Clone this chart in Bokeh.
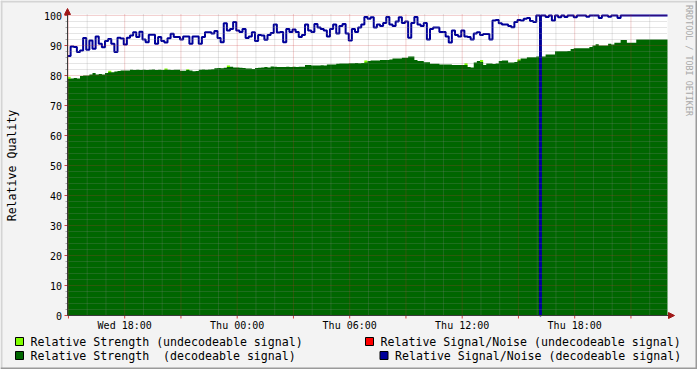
import math
import numpy as np
from bokeh.plotting import figure
from bokeh.models import Range1d, Label, BoxAnnotation, Arrow, NormalHead
from bokeh.core.properties import value
from bokeh.embed import file_html
from bokeh.resources import INLINE

# ---------------- data ----------------
START_HOUR = 14.95          # Wed 14:57 (hours counted from Wed 00:00)
STEP_HOURS = 1.0 / 6.0      # 10-minute samples

# Relative Strength (decodeable signal), one value per 10-minute step
strength_decodeable = [
    78.9, 79.0, 79.2, 79.0, 79.8, 80.0, 80.0, 80.3, 80.8, 80.3,
    80.5, 80.3, 80.8, 81.1, 81.1, 81.3, 81.5, 81.7, 81.7, 81.7,
    81.9, 81.8, 81.9, 81.8, 81.9, 81.8, 81.9, 82.0, 81.8, 81.9,
    81.8, 81.9, 81.9, 81.8, 81.9, 81.9, 81.6, 81.6, 81.8, 81.7,
    81.4, 81.5, 81.9, 82.0, 81.9, 82.0, 82.1, 82.4, 82.5, 82.4,
    82.6, 82.8, 82.9, 82.7, 82.7, 82.6, 82.5, 82.3, 82.3, 82.2,
    82.5, 82.6, 82.7, 82.8, 82.7, 83.0, 82.9, 82.8, 82.8, 82.8,
    82.9, 82.8, 82.9, 82.8, 82.9, 82.9, 83.5, 83.5, 83.3, 83.3,
    83.3, 83.4, 83.3, 83.7, 83.7, 83.7, 83.9, 84.0, 84.0, 84.0,
    84.1, 84.1, 84.2, 84.1, 84.2, 84.3, 84.8, 85.0, 85.0, 85.0,
    85.2, 85.2, 85.2, 85.3, 85.7, 85.7, 85.7, 85.9, 85.9, 86.3,
    86.3, 85.2, 84.8, 84.8, 84.4, 84.4, 83.9, 83.9, 83.9, 83.7,
    83.7, 83.7, 83.7, 83.5, 83.5, 83.5, 83.5, 83.5, 82.8, 82.7,
    84.3, 84.8, 84.5, 83.5, 84.0, 84.0, 83.8, 84.0, 84.8, 85.0,
    85.0, 84.3, 84.3, 84.5, 85.0, 85.7, 85.7, 86.1, 86.1, 86.1,
    86.3, 86.3, 86.3, 87.0, 87.0, 87.0, 88.1, 88.1, 88.1, 88.1,
    88.2, 88.8, 89.1, 89.1, 89.1, 89.1, 89.1, 89.5, 90.0, 90.4,
    90.0, 90.0, 90.0, 90.6, 90.3, 90.9, 90.9, 91.8, 91.8, 90.9,
    90.9, 90.9, 92.0, 92.0, 92.0, 92.0, 92.0, 92.0, 92.0, 92.0,
    92.0, 92.0,
]

# Relative Signal/Noise (decodeable signal), one value per 10-minute step
snr_decodeable = [
    86.5, 89.7, 89.5, 87.8, 88.3, 92.5, 88.6, 91.7, 88.9, 93.0,
    90.6, 89.4, 91.5, 92.2, 90.6, 87.8, 92.6, 92.3, 90.3, 92.6,
    93.3, 94.4, 92.8, 94.6, 92.0, 91.1, 93.6, 93.6, 90.6, 92.8,
    91.5, 91.0, 92.4, 93.9, 92.8, 92.8, 92.0, 93.0, 93.0, 90.6,
    93.0, 93.0, 90.6, 92.8, 94.4, 94.4, 94.0, 94.8, 92.5, 91.1,
    97.4, 95.0, 95.5, 97.8, 95.0, 94.5, 95.5, 92.5, 93.0, 94.4,
    91.5, 93.5, 93.3, 91.9, 93.5, 94.2, 97.0, 94.3, 94.5, 91.1,
    95.5, 94.5, 95.3, 94.5, 92.8, 93.5, 97.0, 95.0, 94.5, 97.2,
    96.0, 95.5, 95.0, 93.0, 95.5, 97.0, 94.0, 96.5, 97.2, 94.0,
    91.7, 95.5, 94.5, 96.0, 97.0, 99.5, 98.9, 99.4, 96.0, 97.0,
    96.5, 97.5, 99.5, 97.0, 96.5, 98.0, 99.4, 97.5, 98.0, 92.6,
    97.5, 99.5, 97.0, 96.5, 97.5, 92.0, 95.5, 96.0, 96.0, 94.5,
    94.5, 93.0, 91.0, 95.0, 93.5, 93.0, 95.0, 93.0, 92.8, 92.0,
    94.0, 94.4, 93.5, 93.8, 93.8, 92.0, 98.3, 98.5, 97.4, 97.0,
    97.0, 96.5, 96.1, 97.8, 98.5, 98.3, 98.9, 99.2, 98.2, 97.8,
    100.0, 100.0, 100.0, 99.5, 100.0, 98.3, 100.0, 99.4, 100.0, 99.5,
    100.0, 100.0, 99.4, 100.0, 100.0, 100.0, 99.6, 100.0, 100.0, 100.0,
    99.2, 100.0, 100.0, 99.6, 100.0, 100.0, 99.2, 100.0, 100.0, 100.0,
    100.0, 100.0, 100.0, 100.0, 100.0, 100.0, 100.0, 100.0, 100.0, 100.0,
    100.0, 100.0,
]

# short drop-out of the decodeable signal/noise (Thu ~16:09)
snr_dropout_hour = 40.15
snr_dropout_value = 0.0

# Relative Strength (undecodeable signal): the few samples that show
strength_undecodeable_hours = [14.95, 17.12, 20.12, 21.28, 23.45, 30.78, 36.12, 36.95, 38.95]
strength_undecodeable_values = [79.6, 81.6, 82.3, 82.1, 83.3, 85.0, 84.1, 85.2, 85.4]

# Relative Signal/Noise (undecodeable signal): none in this period
snr_undecodeable_hours = []
snr_undecodeable_values = []

x_tick_hours = [18, 24, 30, 36, 42]
x_tick_labels = ["Wed 18:00", "Thu 00:00", "Thu 06:00", "Thu 12:00", "Thu 18:00"]
y_ticks = list(range(0, 101, 10))
y_tick_labels = [str(v) for v in y_ticks]

legend_labels = [
    "Relative Strength (undecodeable signal)",
    "Relative Strength\u00a0 (decodeable signal)",
    "Relative Signal/Noise (undecodeable signal)",
    "Relative Signal/Noise (decodeable signal)",
]
legend_colors = ["#80ff00", "#006600", "#ff0000", "#000099"]

# ---------------- styling / layout ----------------
FONT = "DejaVu Sans Mono"
BG = "#f3f3f3"
AXIS_COLOR = "#3a3a3a"
ARROW_COLOR = "#a01818"
MGRID = "#c83232"
GRID = "#8c8c8c"
W, H = 697, 369

n = len(strength_decodeable)
t = START_HOUR + STEP_HOURS * np.arange(n)
t_end = START_HOUR + STEP_HOURS * n

PX_PER_HOUR = 18.75   # page pixels per hour
PX_PER_UNIT = 3.0     # page pixels per quality unit


def hx(px):   # page pixel -> hours
    return START_HOUR + (px - 67) / PX_PER_HOUR


def vy(py):   # page pixel -> quality
    return (315 - py) / PX_PER_UNIT


Y_TOP = vy(14)

p = figure(width=W, height=H, output_backend="svg", toolbar_location=None,
           x_range=Range1d(hx(0), hx(W)), y_range=Range1d(vy(H), vy(0)),
           x_axis_type=None, y_axis_type=None,
           min_border_left=0, min_border_right=0, min_border_top=0, min_border_bottom=0)
p.background_fill_color = BG
p.border_fill_color = BG
p.outline_line_color = None

# 3-D frame of the image
for l, r, b, tp, c in [(0, W, 0, 2, "#d4d4d4"), (0, 2, 0, H, "#d4d4d4"),
                       (0, W, H - 2, H, "#9a9a9a"), (W - 2, W, 0, H, "#9a9a9a")]:
    p.add_layout(BoxAnnotation(left=hx(l), right=hx(r), top=vy(b), bottom=vy(tp),
                               fill_color=c, fill_alpha=1.0, line_color=None,
                               level="underlay"))

# white canvas
p.add_layout(BoxAnnotation(left=START_HOUR, right=t_end, bottom=0, top=Y_TOP,
                           fill_color="white", fill_alpha=1.0, line_color=None,
                           level="underlay"))

# undecodeable strength (light green), below the decodeable area
if strength_undecodeable_hours:
    p.quad(left=strength_undecodeable_hours,
           right=[h + STEP_HOURS for h in strength_undecodeable_hours],
           bottom=0, top=strength_undecodeable_values,
           fill_color=legend_colors[0], line_color=None)

# decodeable strength area
ax = list(t) + [t_end]
ay = list(strength_decodeable) + [strength_decodeable[-1]]
p.varea_step(x=ax, y1=0, y2=ay, step_mode="after", fill_color=legend_colors[1])

# undecodeable SNR (none)
if snr_undecodeable_hours:
    p.step(snr_undecodeable_hours, snr_undecodeable_values, mode="after",
           line_color=legend_colors[2], line_width=2)

# decodeable SNR line
bx, by = [], []
for ti, v in zip(t, snr_decodeable):
    bx.append(ti)
    by.append(v)
    if ti <= snr_dropout_hour < ti + STEP_HOURS:
        bx += [snr_dropout_hour, snr_dropout_hour + 0.05]
        by += [snr_dropout_value, v]
bx.append(t_end)
by.append(snr_decodeable[-1])
p.step(bx, by, mode="after", line_color=legend_colors[3], line_width=2)

# ---------------- grid (drawn over the data, like rrdtool) ----------------
x_major = list(range(15, int(t_end) + 1, 3))
x_minor = [h for h in range(15, int(t_end) + 1) if h % 3 != 0]
y_minor = [v for v in range(0, 101, 2) if v % 10 != 0]
y_major = [v for v in y_ticks if v > 0]

p.segment(x0=x_minor, y0=0, x1=x_minor, y1=Y_TOP, line_color=GRID, line_alpha=0.45,
          line_width=1, line_dash="1 1")
p.segment(x0=START_HOUR, y0=y_minor, x1=t_end, y1=y_minor, line_color=GRID,
          line_alpha=0.45, line_width=1, line_dash="1 1")
p.segment(x0=x_major, y0=0, x1=x_major, y1=Y_TOP, line_color=MGRID, line_alpha=0.45,
          line_width=1, line_dash="1 1")
p.segment(x0=START_HOUR, y0=y_major, x1=t_end, y1=y_major, line_color=MGRID,
          line_alpha=0.45, line_width=1, line_dash="1 1")

# ---------------- axes ----------------
# tick marks
p.segment(x0=hx(65), y0=y_minor, x1=START_HOUR, y1=y_minor, line_color="#a8a8a8", line_width=1)
p.segment(x0=hx(64), y0=y_ticks, x1=START_HOUR, y1=y_ticks, line_color="#d04040", line_width=1)
p.segment(x0=x_major, y0=0, x1=x_major, y1=vy(318), line_color="#d04040", line_width=1)

# axis lines with arrows
p.add_layout(Arrow(end=NormalHead(size=6, fill_color=ARROW_COLOR, line_color=ARROW_COLOR),
                   x_start=START_HOUR, y_start=0, x_end=START_HOUR, y_end=vy(8),
                   line_color=AXIS_COLOR, line_width=1))
p.add_layout(Arrow(end=NormalHead(size=6, fill_color=ARROW_COLOR, line_color=ARROW_COLOR),
                   x_start=START_HOUR, y_start=0, x_end=hx(674), y_end=0,
                   line_color=AXIS_COLOR, line_width=1))

# tick labels
p.text(x=hx(61.5), y=[v - 0.1 for v in y_ticks], text=y_tick_labels,
       text_font=value(FONT), text_font_size=value("10px"), text_color="black",
       text_align="right", text_baseline="middle")
p.text(x=x_tick_hours, y=vy(324.5), text=x_tick_labels,
       text_font=value(FONT), text_font_size=value("10px"), text_color="black",
       text_align="center", text_baseline="middle")

# y axis title
p.add_layout(Label(x=hx(11.5), y=vy(165), text="Relative Quality", angle=math.pi / 2,
                   text_align="center", text_baseline="middle", text_font=FONT,
                   text_font_size="11.6px", text_color="black"))

# watermark
p.add_layout(Label(x=hx(688), y=vy(60), text="RRDTOOL / TOBI OETIKER",
                   angle=-math.pi / 2, text_align="center", text_baseline="middle",
                   text_font=FONT, text_font_size="8.4px", text_color="#a8a8a8"))

# ---------------- legend ----------------
box_left = [15, 15, 365, 379.5]
row_mid = [341, 355, 341, 355]
text_left = [30, 30, 380, 394.5]
p.quad(left=[hx(b) for b in box_left], right=[hx(b + 8) for b in box_left],
       top=[vy(r - 4) for r in row_mid], bottom=[vy(r + 4) for r in row_mid],
       fill_color=legend_colors, line_color="black", line_width=1)
p.text(x=[hx(v) for v in text_left], y=[vy(r + 0.5) for r in row_mid], text=legend_labels,
       text_font=value(FONT), text_font_size=value("11.6px"),
       text_baseline="middle", text_align="left", text_color="black")

open("out.html", "w").write(file_html(p, INLINE))
